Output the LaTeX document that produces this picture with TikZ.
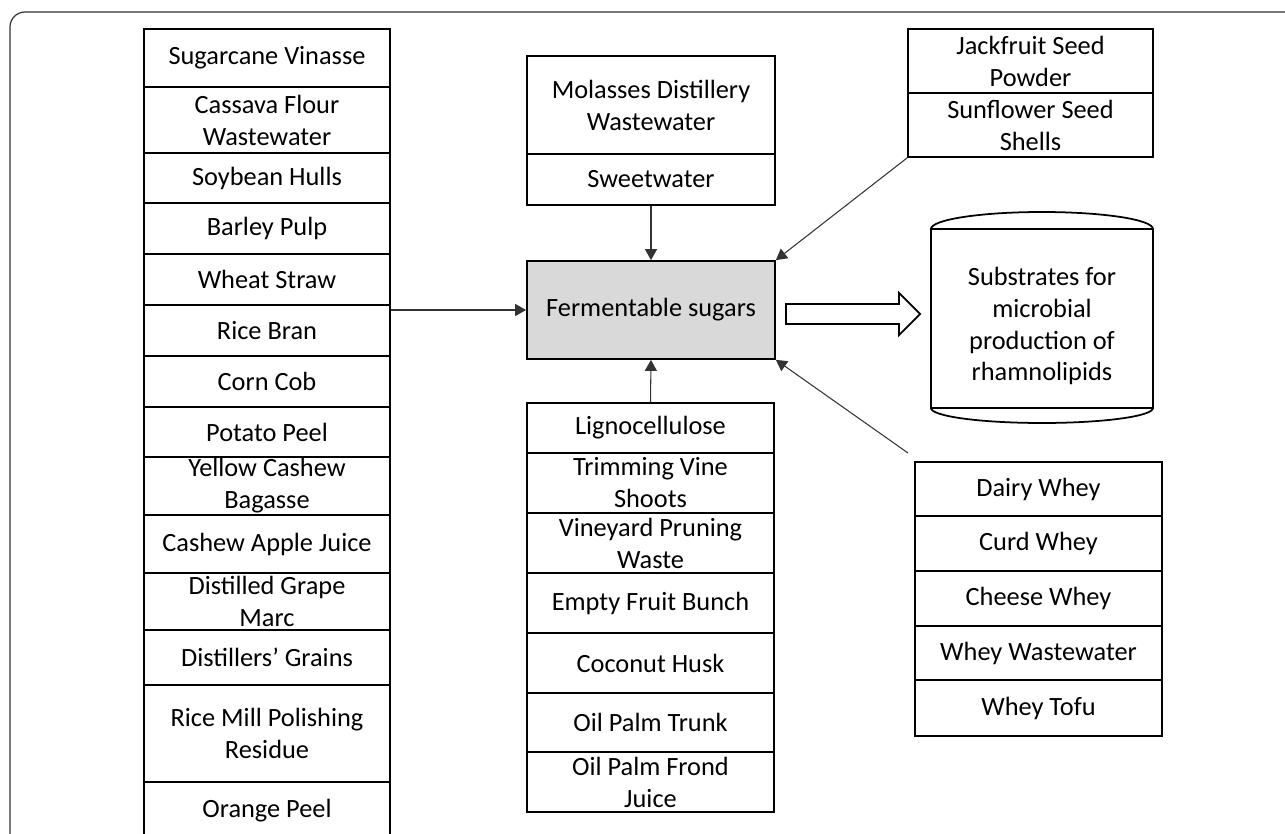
\documentclass[tikz,border=0pt]{standalone}
\usepackage{fontspec}
\setmainfont{Carlito}
\usetikzlibrary{arrows.meta}

\begin{document}
\begin{tikzpicture}[x=0.02cm,y=-0.02cm,
  srcbox/.style={draw,line width=1pt,inner sep=0pt,align=center,
    font=\fontsize{15}{18.2}\selectfont},
  conn/.style={draw=black!80,line width=0.6pt,-{Triangle[length=0.22cm,width=0.24cm]}}]
\useasboundingbox (0,0) rectangle (1285,834);
\clip (0,0) rectangle (1285,834);

% outer frame
\draw[black!80,line width=0.7pt,rounded corners=0.3cm] (10,860) -- (10,12) -- (1300,12);

% left column
\node[srcbox,minimum width=4.92cm,minimum height=1.16cm] (vinasse) at (267,58) {Sugarcane Vinasse};
\node[srcbox,minimum width=4.92cm,minimum height=1.32cm] (cassava) at (267,120) {Cassava Flour\\Wastewater};
\node[srcbox,minimum width=4.92cm,minimum height=1.00cm] (soy) at (267,178) {Soybean Hulls};
\node[srcbox,minimum width=4.92cm,minimum height=1.02cm] (barley) at (267,228.5) {Barley Pulp};
\node[srcbox,minimum width=4.92cm,minimum height=1.02cm] (wheat) at (267,279.5) {Wheat Straw};
\node[srcbox,minimum width=4.92cm,minimum height=1.02cm] (rice) at (267,330.5) {Rice Bran};
\node[srcbox,minimum width=4.92cm,minimum height=1.02cm] (corn) at (267,381.5) {Corn Cob};
\node[srcbox,minimum width=4.92cm,minimum height=1.00cm] (potato) at (267,432) {Potato Peel};
\node[srcbox,minimum width=4.92cm,minimum height=1.16cm] (yellow) at (267,486) {Yellow Cashew\\Bagasse};
\node[srcbox,minimum width=4.92cm,minimum height=1.16cm] (apple) at (267,544) {Cashew Apple Juice};
\node[srcbox,minimum width=4.92cm,minimum height=1.14cm] (grape) at (267,601.5) {Distilled Grape\\Marc};
\node[srcbox,minimum width=4.92cm,minimum height=1.10cm] (grains) at (267,657.5) {Distillers’ Grains};
\node[srcbox,minimum width=4.92cm,minimum height=1.94cm] (mill) at (267,733.5) {Rice Mill Polishing\\Residue};
\node[srcbox,minimum width=4.92cm,minimum height=1.16cm] (orange) at (267,811) {Orange Peel};

% middle
\node[srcbox,minimum width=4.96cm,minimum height=1.96cm] (molasses) at (651,105) {Molasses Distillery\\Wastewater};
\node[srcbox,minimum width=4.96cm,minimum height=1.02cm] (sweet) at (651,179.5) {Sweetwater};
\node[srcbox,fill=black!15,minimum width=4.96cm,minimum height=1.96cm] (ferm) at (651,310) {Fermentable sugars};

\node[srcbox,minimum width=4.94cm,minimum height=1.00cm] (ligno) at (650.5,428) {Lignocellulose};
\node[srcbox,minimum width=4.94cm,minimum height=1.20cm] (vine) at (650.5,483) {Trimming Vine\\Shoots};
\node[srcbox,minimum width=4.94cm,minimum height=1.20cm] (pruning) at (650.5,543) {Vineyard Pruning\\Waste};
\node[srcbox,minimum width=4.94cm,minimum height=1.20cm] (bunch) at (650.5,603) {Empty Fruit Bunch};
\node[srcbox,minimum width=4.94cm,minimum height=1.20cm] (husk) at (650.5,663) {Coconut Husk};
\node[srcbox,minimum width=4.94cm,minimum height=1.18cm] (trunk) at (650.5,722.5) {Oil Palm Trunk};
\node[srcbox,minimum width=4.94cm,minimum height=1.20cm] (frond) at (650.5,782) {Oil Palm Frond\\Juice};

% right
\node[srcbox,minimum width=4.90cm,minimum height=1.28cm] (jack) at (1030.5,61) {Jackfruit Seed\\Powder};
\node[srcbox,minimum width=4.90cm,minimum height=1.28cm] (sun) at (1030.5,125) {Sunflower Seed\\Shells};

\node[srcbox,minimum width=4.94cm,minimum height=1.08cm] (dairy) at (1038.5,489) {Dairy Whey};
\node[srcbox,minimum width=4.94cm,minimum height=1.10cm] (curd) at (1038.5,543.5) {Curd Whey};
\node[srcbox,minimum width=4.94cm,minimum height=1.10cm] (cheese) at (1038.5,598.5) {Cheese Whey};
\node[srcbox,minimum width=4.94cm,minimum height=1.08cm] (wwater) at (1038.5,653) {Whey Wastewater};
\node[srcbox,minimum width=4.94cm,minimum height=1.12cm] (tofu) at (1038.5,708) {Whey Tofu};

% product drum
\draw[line width=1pt] (931,229) rectangle (1153,408);
\draw[line width=1pt] (931,229) arc[start angle=180,end angle=0,x radius=2.22cm,y radius=0.34cm];
\draw[line width=1pt] (931,408) arc[start angle=180,end angle=360,x radius=2.22cm,y radius=0.3cm];
\node[align=center,inner sep=0pt,font=\fontsize{15}{18.2}\selectfont] (subst) at (1042,326)
  {Substrates for\\microbial\\production of\\rhamnolipids};

% big arrow
\draw[line width=1pt] (786,304) -- (899,304) -- (899,293) -- (920,314) -- (899,335) -- (899,324) -- (786,324) -- cycle;

% connectors
\coordinate (wheyend) at (908,453);
\draw[conn] (rice.east |- ferm.west) -- (ferm.west);
\draw[conn] (sweet.south) -- (ferm.north);
\draw[conn] (ligno.north) -- (ferm.south);
\draw[conn] (sun.south west) -- (ferm.north east);
\draw[conn] (wheyend) -- (ferm.south east);
\end{tikzpicture}
\end{document}
